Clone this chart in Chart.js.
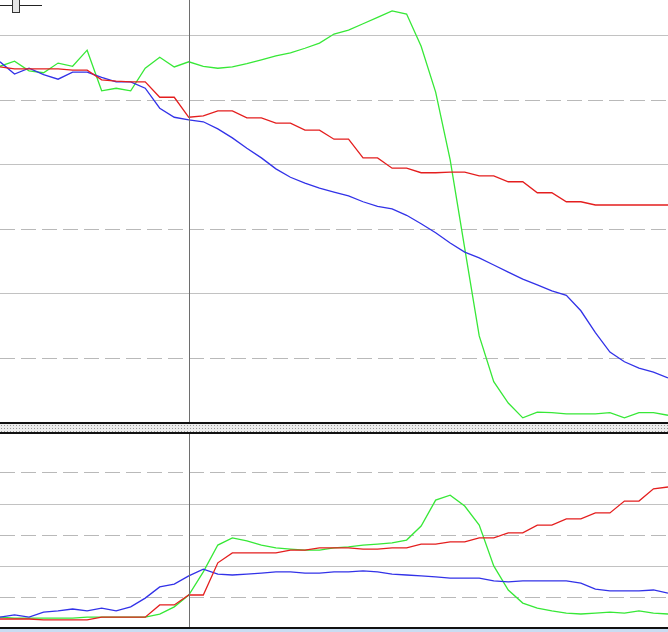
<!DOCTYPE html>
<html>
<head>
<meta charset="utf-8">
<script src="https://cdn.jsdelivr.net/npm/chart.js@4/dist/chart.umd.min.js"></script>
<style>
  html, body { margin: 0; padding: 0; background: #fff; }
  #wrap { position: relative; width: 668px; height: 632px; overflow: hidden; background: #fff; }
  #top_box { position: absolute; left: 0; top: 0; width: 668px; height: 423px; }
  #bottom_box { position: absolute; left: 0; top: 433px; width: 668px; height: 196px; }
  #splitter {
    position: absolute; left: 0; top: 422px; width: 668px; height: 8px;
    border-top: 2px solid #111; border-bottom: 2px solid #111;
    background-color: #ededed;
    background-image: radial-gradient(#9a9a9a 0.6px, transparent 0.9px);
    background-size: 3px 3px;
  }
  #bottom_edge { position: absolute; left: 0; top: 627px; width: 668px; height: 2px; background: #111; }
  #status { position: absolute; left: 0; top: 629px; width: 668px; height: 3px; background: #c9dcf2; }
  #slider_line { position: absolute; left: 0; top: 5px; width: 42px; height: 1px; background: #222; }
  #slider_knob {
    position: absolute; left: 12px; top: -1px; width: 6px; height: 13px;
    background: #e6e6e6; border: 1px solid #333; border-top: none;
  }
</style>
</head>
<body>
<div id="wrap">
  <div id="top_box"><canvas id="grafico_topo"></canvas></div>
  <div id="bottom_box"><canvas id="grafico_base"></canvas></div>
  <div id="splitter"></div>
  <div id="bottom_edge"></div>
  <div id="status"></div>
  <div id="slider_line"></div>
  <div id="slider_knob"></div>
</div>
<script>
const labels = [0, 1, 2, 3, 4, 5, 6, 7, 8, 9, 10, 11, 12, 13, 14, 15, 16, 17, 18, 19, 20, 21, 22, 23,
    24, 25, 26, 27, 28, 29, 30, 31, 32, 33, 34, 35, 36, 37, 38, 39, 40, 41, 42, 43, 44, 45, 46]
const cursorIndex = 13

// painel de cima
const topRed = [55.2, 54.9, 54.9, 54.9, 54.9, 54.7, 54.7, 53.2, 53.0, 52.9, 52.9, 50.5, 50.5, 47.4, 47.6, 48.4,
    48.4, 47.3, 47.3, 46.5, 46.5, 45.4, 45.4, 44.0, 44.0, 41.1, 41.1, 39.5, 39.5, 38.8, 38.8, 38.9,
    38.9, 38.3, 38.3, 37.4, 37.4, 35.7, 35.7, 34.3, 34.3, 33.8, 33.8, 33.8, 33.8, 33.8, 33.8]
const topGreen = [55.3, 56.1, 54.6, 54.3, 55.8, 55.3, 57.8, 51.5, 51.9, 51.5, 55.0, 56.7, 55.2, 56.0, 55.3, 55.0,
    55.2, 55.7, 56.3, 56.9, 57.4, 58.1, 58.9, 60.3, 60.9, 61.9, 62.9, 63.9, 63.4, 58.4, 51.3, 40.8,
    27.1, 13.5, 6.4, 3.1, 0.8, 1.7, 1.6, 1.4, 1.4, 1.4, 1.6, 0.8, 1.6, 1.6, 1.2]
const topBlue = [56.0, 54.1, 55.0, 54.0, 53.3, 54.4, 54.4, 53.6, 52.9, 52.9, 51.9, 48.8, 47.4, 47.0, 46.7, 45.6,
    44.2, 42.6, 41.1, 39.4, 38.1, 37.2, 36.4, 35.8, 35.2, 34.3, 33.6, 33.2, 32.2, 30.9, 29.5, 27.9,
    26.5, 25.6, 24.5, 23.4, 22.3, 21.4, 20.5, 19.8, 17.4, 14.0, 11.0, 9.5, 8.5, 7.9, 7.0]
const topSolidTicks = [20, 40, 60]
const topDashedTicks = [10, 30, 50]

// painel de baixo
const bottomRed = [3.2, 3.2, 3.2, 2.9, 2.9, 2.9, 2.9, 3.8, 3.8, 3.8, 3.8, 7.7, 7.7, 10.9, 10.9, 21.2,
    24.4, 24.4, 24.4, 24.4, 25.3, 25.3, 26.0, 26.0, 26.0, 25.6, 25.6, 26.0, 26.0, 27.2, 27.2, 27.9,
    27.9, 29.2, 29.2, 30.8, 30.8, 33.3, 33.3, 35.3, 35.3, 37.2, 37.2, 41.0, 41.0, 44.9, 45.5]
const bottomGreen = [3.8, 3.5, 3.5, 3.5, 3.5, 3.5, 3.8, 3.8, 3.8, 3.8, 3.8, 4.8, 7.1, 10.9, 18.3, 26.9,
    29.2, 28.2, 26.9, 26.0, 25.6, 25.3, 25.3, 26.0, 26.3, 26.9, 27.2, 27.6, 28.5, 33.0, 41.3, 42.9,
    39.4, 33.3, 20.2, 12.5, 8.3, 6.7, 5.8, 5.1, 4.8, 5.1, 5.4, 5.1, 5.8, 5.1, 4.8]
const bottomBlue = [3.8, 4.5, 3.8, 5.4, 5.8, 6.4, 5.8, 6.7, 5.8, 7.1, 9.9, 13.5, 14.4, 17.0, 19.2, 17.6,
    17.3, 17.6, 17.9, 18.3, 18.3, 17.9, 17.9, 18.3, 18.3, 18.6, 18.3, 17.6, 17.3, 17.0, 16.7, 16.3,
    16.3, 16.3, 15.4, 15.1, 15.4, 15.4, 15.4, 15.4, 14.7, 12.8, 12.2, 12.2, 12.2, 12.5, 11.5]
const bottomSolidTicks = [20, 40]
const bottomDashedTicks = [10, 30, 50]

const RED = 'rgb(228, 30, 30)'
const GREEN = 'rgb(55, 232, 55)'
const BLUE = 'rgb(50, 50, 232)'

const cursorPlugin = {
    id: 'cursor',
    afterDatasetsDraw(chart) {
        const ctx = chart.ctx
        const x = Math.round(chart.scales.x.getPixelForValue(cursorIndex)) + 0.5
        ctx.save()
        ctx.strokeStyle = '#6e6e6e'
        ctx.lineWidth = 1
        ctx.beginPath()
        ctx.moveTo(x, 0)
        ctx.lineTo(x, chart.height)
        ctx.stroke()
        ctx.restore()
    }
}

function linha(data, color) {
    return { data: data, borderColor: color, borderWidth: 1.3, pointRadius: 0, tension: 0, fill: false }
}

function gridAxis(min, max, ticks, dashed) {
    return {
        position: 'left',
        min: min,
        max: max,
        afterBuildTicks: function (scale) { scale.ticks = ticks.map(v => ({ value: v })) },
        ticks: { display: false },
        grid: { drawTicks: false, color: dashed ? '#b9b9b9' : '#c2c2c2', lineWidth: 1 },
        border: { display: false, dash: dashed ? [15, 6] : [] }
    }
}

function makeChart(id, red, green, blue, max, solid, dashedTicks) {
    const config = {
        type: 'line',
        data: {
            labels: labels,
            datasets: [linha(red, RED), linha(blue, BLUE), linha(green, GREEN)]
        },
        options: {
            responsive: false,
            animation: false,
            layout: { padding: 0 },
            plugins: { legend: { display: false }, tooltip: { enabled: false } },
            scales: {
                x: { display: false },
                y: gridAxis(0, max, solid, false),
                yd: gridAxis(0, max, dashedTicks, true)
            }
        },
        plugins: [cursorPlugin]
    }
    const canvas = document.getElementById(id)
    return new Chart(canvas, config)
}

const c1 = document.getElementById('grafico_topo')
c1.width = 668; c1.height = 423
const c2 = document.getElementById('grafico_base')
c2.width = 668; c2.height = 196

makeChart('grafico_topo', topRed, topGreen, topBlue, 65.58, topSolidTicks, topDashedTicks)
makeChart('grafico_base', bottomRed, bottomGreen, bottomBlue, 62.8, bottomSolidTicks, bottomDashedTicks)
</script>
</body>
</html>
